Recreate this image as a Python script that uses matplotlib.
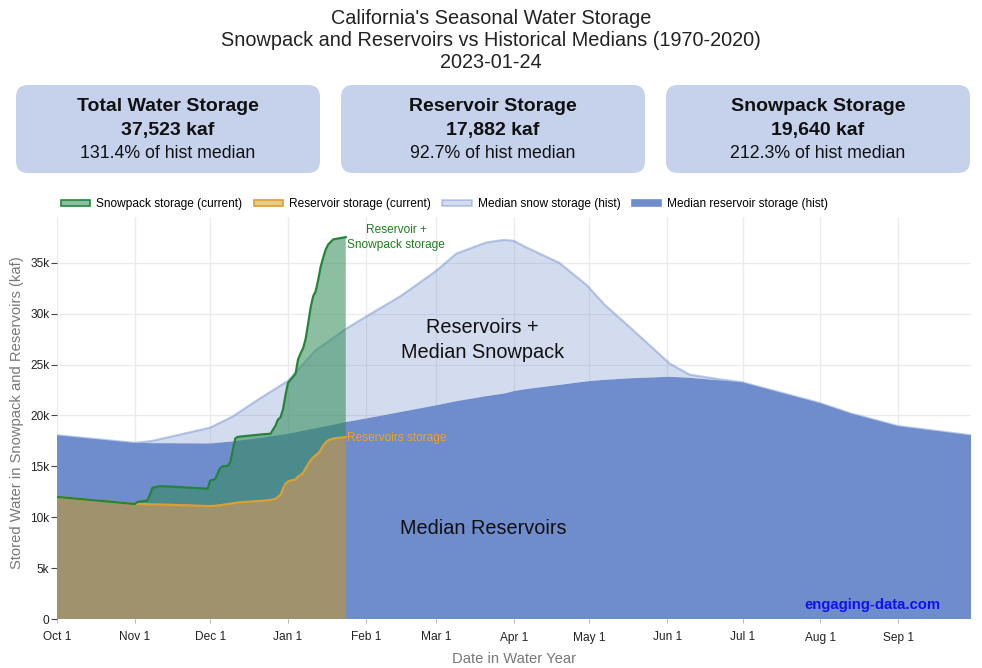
import matplotlib
matplotlib.use("Agg")
import matplotlib.pyplot as plt
from matplotlib.patches import FancyBboxPatch, Patch
import numpy as np

plt.rcParams['font.family'] = ['Liberation Sans', 'DejaVu Sans']

# ---------------- data (kaf, in thousands) ----------------
month_ticks = [0, 31, 61, 92, 123, 151, 182, 212, 243, 273, 304, 335]
month_labels = ["Oct 1", "Nov 1", "Dec 1", "Jan 1", "Feb 1", "Mar 1", "Apr 1",
                "May 1", "Jun 1", "Jul 1", "Aug 1", "Sep 1"]

med_days = [0, 31, 38, 61, 70, 81, 92, 103, 115, 123, 137, 151, 159, 171, 178,
            182, 187, 200, 211, 218, 228, 244, 252, 264, 273, 304, 316, 335, 364]
med_res = [18.05, 17.3, 17.28, 17.25, 17.45, 17.8, 18.2, 18.75, 19.35, 19.7,
           20.35, 21.0, 21.4, 21.9, 22.15, 22.4, 22.6, 23.0, 23.35, 23.5, 23.65,
           23.8, 23.7, 23.45, 23.25, 21.2, 20.2, 18.95, 18.05]
med_snow = [0.0, 0.0, 0.22, 1.55, 2.45, 3.9, 5.2, 7.65, 9.15, 10.0, 11.4, 13.2,
            14.5, 15.1, 15.1, 14.75, 13.9, 12.0, 9.45, 7.4, 5.05, 1.3, 0.3, 0.1,
            0.0, 0.0, 0.0, 0.0, 0.0]

cur_days = [0, 31, 32, 36, 37, 38, 41, 50, 60, 61, 63, 65, 66, 68, 69, 71, 72,
            82, 85, 87, 88, 89, 90, 91, 92, 93, 95, 96, 97, 98, 99, 100, 101,
            102, 103, 104, 105, 106, 107, 108, 110, 115]
cur_total = [12.0, 11.3, 11.5, 11.65, 12.2, 12.9, 13.05, 12.95, 12.8, 13.6,
             13.75, 14.85, 15.0, 15.05, 15.4, 17.75, 17.9, 18.15, 18.2, 19.0,
             19.6, 19.8, 20.6, 22.0, 23.2, 23.5, 24.1, 25.5, 26.1, 26.6, 27.5,
             29.0, 30.6, 31.7, 32.2, 33.3, 34.6, 35.5, 36.3, 36.8, 37.3, 37.52]
cur_res = [12.0, 11.3, 11.3, 11.28, 11.27, 11.26, 11.25, 11.18, 11.1, 11.1,
           11.12, 11.18, 11.22, 11.3, 11.33, 11.4, 11.45, 11.62, 11.7, 11.8,
           12.0, 12.2, 12.8, 13.3, 13.5, 13.6, 13.7, 14.0, 14.15, 14.35, 14.8,
           15.2, 15.6, 15.85, 16.1, 16.25, 16.6, 17.05, 17.35, 17.55, 17.73, 17.88]

card_titles = ["Total Water Storage", "Reservoir Storage", "Snowpack Storage"]
card_values = ["37,523 kaf", "17,882 kaf", "19,640 kaf"]
card_pcts = ["131.4% of hist median", "92.7% of hist median", "212.3% of hist median"]

# ---------------- figure ----------------
W, H = 982, 668
fig = plt.figure(figsize=(W / 100, H / 100), dpi=100)

# overlay in pixel coords
ov = fig.add_axes([0, 0, 1, 1])
ov.set_xlim(0, W)
ov.set_ylim(H, 0)
ov.axis('off')

ov.text(491, 18.5, "California's Seasonal Water Storage", ha='center', va='center',
        fontsize=14.3, color='#222')
ov.text(491, 40.5, "Snowpack and Reservoirs vs Historical Medians (1970-2020)",
        ha='center', va='center', fontsize=14.3, color='#222')
ov.text(491, 62.5, "2023-01-24", ha='center', va='center', fontsize=14.3, color='#222')

card_x = [16, 341, 666]
for cx, t, v, p in zip(card_x, card_titles, card_values, card_pcts):
    box = FancyBboxPatch((cx, 85), 304, 88,
                         boxstyle="round,pad=0,rounding_size=12",
                         facecolor='#C6D1EB', edgecolor='none')
    ov.add_patch(box)
    mid = cx + 152
    ov.text(mid, 106.5, t, ha='center', va='center', fontsize=14, fontweight='bold', color='#111')
    ov.text(mid, 130, v, ha='center', va='center', fontsize=14, fontweight='bold', color='#111')
    ov.text(mid, 153.5, p, ha='center', va='center', fontsize=12.8, color='#111')

# ---------------- main axes ----------------
left, right = 57 / W, 971 / W
bottom, top = 1 - 619 / H, 1 - 217 / H
ax = fig.add_axes([left, bottom, right - left, top - bottom])

med_days_a = np.array(med_days)
med_res_a = np.array(med_res) * 1000
med_tot_a = (np.array(med_res) + np.array(med_snow)) * 1000
cur_days_a = np.array(cur_days)
cur_res_a = np.array(cur_res) * 1000
cur_tot_a = np.array(cur_total) * 1000

blue = (111 / 255, 140 / 255, 205 / 255)
green = (46 / 255, 139 / 255, 87 / 255)
gold = (209 / 255, 152 / 255, 15 / 255)

ax.fill_between(med_days_a, 0, med_res_a, facecolor=blue, edgecolor='none', zorder=2)
ax.fill_between(med_days_a, med_res_a, med_tot_a, facecolor=blue + (0.3,),
                edgecolor='none', zorder=2)
ax.plot(med_days_a, med_tot_a, color=blue + (0.45,), lw=1.6, zorder=2.1)

ax.fill_between(cur_days_a, 0, cur_res_a, facecolor=gold + (0.5,), edgecolor='none', zorder=3)
ax.fill_between(cur_days_a, cur_res_a, cur_tot_a, facecolor=green + (0.55,),
                edgecolor='none', zorder=3)
ax.plot(cur_days_a, cur_res_a, color='#DBA031', lw=1.6, zorder=4)
ax.plot(cur_days_a, cur_tot_a, color='#24853A', lw=1.6, zorder=4.1)

ax.set_xlim(0, 364)
ax.set_ylim(0, 39500)
ax.set_xticks(month_ticks)
ax.set_xticklabels(month_labels)
yt = [0, 5000, 10000, 15000, 20000, 25000, 30000, 35000]
ax.set_yticks(yt)
ax.set_yticklabels(["0", "5k", "10k", "15k", "20k", "25k", "30k", "35k"])
ax.tick_params(axis='y', length=4, width=0.8, color='#444', labelsize=8.6,
               labelcolor='#222', pad=1.5)
ax.tick_params(axis='x', length=3, width=0.6, color='#AAA', labelsize=8.6,
               labelcolor='#222', pad=6)
for s in ax.spines.values():
    s.set_visible(False)
ax.grid(True, color='#EBEBEB', lw=1.0, zorder=0)
ax.set_axisbelow(True)

ax.set_xlabel("Date in Water Year", fontsize=10.6, color='#777', labelpad=6)
ax.set_ylabel("Stored Water in Snowpack and Reservoirs (kaf)", fontsize=10.6,
              color='#777', labelpad=6)
ax.yaxis.set_label_coords(-0.036, 0.513)

ax.text(115.6, 37450, "Reservoir +\nSnowpack storage", ha='left', va='center',
        multialignment='center', fontsize=8.6, color='#1E7E1E', zorder=6,
        linespacing=1.33)
ax.text(115.6, 17800, "Reservoirs storage", ha='left', va='center',
        fontsize=8.6, color='#F2A02A', zorder=6)
ax.text(169.3, 27400, "Reservoirs +\nMedian Snowpack", ha='center', va='center',
        fontsize=14.3, color='#111', zorder=6, linespacing=1.43)
ax.text(169.7, 8900, "Median Reservoirs", ha='center', va='center',
        fontsize=14.3, color='#111', zorder=6)
ax.text(0.966, 0.035, "engaging-data.com", transform=ax.transAxes, ha='right',
        va='center', fontsize=10.7, fontweight='bold', color='#1010F0', zorder=6)

handles = [
    Patch(facecolor=green + (0.55,), edgecolor='#24853A', lw=1.2),
    Patch(facecolor=gold + (0.5,), edgecolor='#DBA031', lw=1.2),
    Patch(facecolor=blue + (0.3,), edgecolor=blue + (0.45,), lw=1.2),
    Patch(facecolor=blue, edgecolor=blue, lw=1.2),
]
labels = ["Snowpack storage (current)", "Reservoir storage (current)",
          "Median snow storage (hist)", "Median reservoir storage (hist)"]
fig.legend(handles, labels, loc='center left', bbox_to_anchor=(61 / W, 1 - 204 / H),
           ncol=4, frameon=False, fontsize=8.6, handlelength=2.45, handleheight=0.45,
           handletextpad=0.5, columnspacing=0.96, borderaxespad=0, borderpad=0)

fig.savefig("out.png", dpi=100)
